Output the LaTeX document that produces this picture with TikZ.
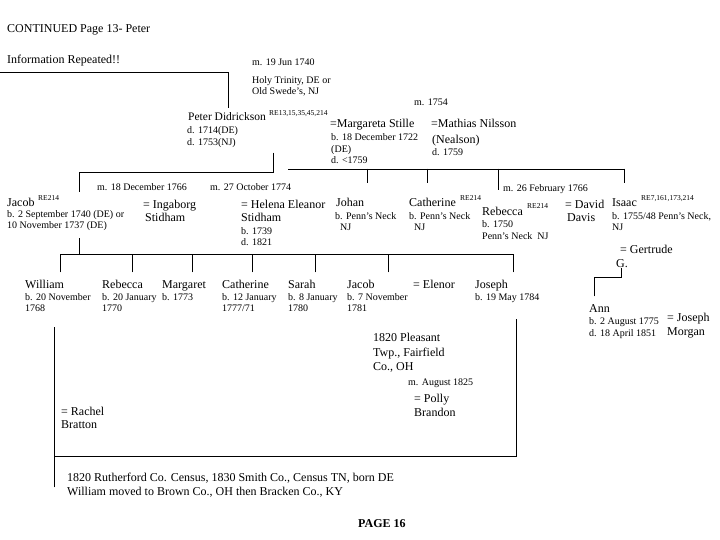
\documentclass[tikz,border=0pt]{standalone}
\usepackage{fontspec}
\setmainfont{Liberation Serif}
\tikzset{
  lg/.style={anchor=base west, inner sep=0pt, font=\fontsize{12}{14}\selectfont},
  pt/.style={anchor=base west, inner sep=0pt, font=\fontsize{11.5}{13}\selectfont},
  sm/.style={anchor=base west, inner sep=0pt, font=\fontsize{10}{11}\selectfont},
  sp/.style={anchor=base west, inner sep=0pt, font=\fontsize{7.5}{8}\selectfont},
  bd/.style={anchor=base west, inner sep=0pt, font=\fontsize{12}{14}\selectfont\bfseries},
  ln/.style={line width=0.9pt, line cap=rect},
}
\begin{document}
\begin{tikzpicture}[x=1pt,y=-1pt]
\useasboundingbox[fill=white] (0,0) rectangle (720,540);
% header
\node[lg] (t1) at (7,33) {CONTINUED Page 13- Peter};
\node[lg] (t2) at (7,64) {Information Repeated!!};
\node[sm] (m1740) at (252,66) {m. 19 Jun 1740};
\node[sm] (holy) at (252,84) {Holy Trinity, DE or};
\node[sm] (swede) at (252,95) {Old Swede’s, NJ};
\node[sm] (m1754) at (414,106) {m. 1754};
% Peter
\node[pt] (peter) at (188,121) {Peter Didrickson};
\node[sp] (peterre) at (269,116) {RE13,15,35,45,214};
\node[sm] (pd1) at (187,134) {d. 1714(DE)};
\node[sm] (pd2) at (187,146) {d. 1753(NJ)};
\node[lg] (marg) at (330,128) {=Margareta Stille};
\node[sm] (marg1) at (331,141) {b. 18 December 1722};
\node[sm] (marg2) at (331,153) {(DE)};
\node[sm] (marg3) at (331,164) {d. <1759};
\node[lg] (math) at (431,128) {=Mathias Nilsson};
\node[lg] (math1) at (432,144) {(Nealson)};
\node[sm] (math2) at (432,156) {d. 1759};
% second row
\node[sm] (m1766) at (97,191) {m. 18 December 1766};
\node[sm] (m1774) at (210,191) {m. 27 October 1774};
\node[lg] (jacob) at (7,207) {Jacob};
\node[sp] (jacobre) at (38,201) {RE214};
\node[sm] (jacob1) at (7,218) {b. 2 September 1740 (DE) or};
\node[sm] (jacob2) at (7,229) {10 November 1737 (DE)};
\node[lg] (inga) at (143,208) {= Ingaborg};
\node[lg] (inga1) at (145,222) {Stidham};
\node[lg] (hel) at (241,208) {= Helena Eleanor};
\node[lg] (hel1) at (241,222) {Stidham};
\node[sm] (hel2) at (241,234) {b. 1739};
\node[sm] (hel3) at (241,245) {d. 1821};
\node[lg] (johan) at (336,207) {Johan};
\node[sm] (johan1) at (335,219) {b. Penn’s Neck};
\node[sm] (johan2) at (340,230) {NJ};
\node[lg] (cath) at (409,207) {Catherine};
\node[sp] (cathre) at (460,201) {RE214};
\node[sm] (cath1) at (409,219) {b. Penn’s Neck};
\node[sm] (cath2) at (414,230) {NJ};
\node[lg] (reb) at (482,215) {Rebecca};
\node[sp] (rebre) at (527,209) {RE214};
\node[sm] (reb1) at (482,228) {b. 1750};
\node[sm] (reb2) at (482,240) {Penn’s Neck\ \ NJ};
\node[sm] (m1766b) at (503,192) {m. 26 February 1766};
\node[lg] (david) at (565,208) {= David};
\node[lg] (david1) at (567,222) {Davis};
\node[lg] (isaac) at (612,207) {Isaac};
\node[sp] (isaacre) at (641,201) {RE7,161,173,214};
\node[sm] (isaac1) at (612,219) {b. 1755/48 Penn’s Neck,};
\node[sm] (isaac2) at (612,230) {NJ};
\node[lg] (gert) at (620,254) {= Gertrude};
\node[lg] (gert1) at (616,267) {G.};
% children
\node[lg] (will) at (25,288) {William};
\node[sm] (will1) at (25,300) {b. 20 November};
\node[sm] (will2) at (25,311) {1768};
\node[lg] (rebc) at (102,288) {Rebecca};
\node[sm] (rebc1) at (102,300) {b. 20 January};
\node[sm] (rebc2) at (102,311) {1770};
\node[lg] (marc) at (162,288) {Margaret};
\node[sm] (marc1) at (162,300) {b. 1773};
\node[lg] (cathc) at (222,288) {Catherine};
\node[sm] (cathc1) at (222,300) {b. 12 January};
\node[sm] (cathc2) at (222,311) {1777/71};
\node[lg] (sarah) at (288,288) {Sarah};
\node[sm] (sarah1) at (288,300) {b. 8 January};
\node[sm] (sarah2) at (288,311) {1780};
\node[lg] (jacc) at (347,288) {Jacob};
\node[sm] (jacc1) at (347,300) {b. 7 November};
\node[sm] (jacc2) at (347,311) {1781};
\node[lg] (elen) at (413,288) {= Elenor};
\node[lg] (jos) at (475,288) {Joseph};
\node[sm] (jos1) at (475,300) {b. 19 May 1784};
% Ann
\node[lg] (ann) at (589,312) {Ann};
\node[sm] (ann1) at (589,324) {b. 2 August 1775};
\node[sm] (ann2) at (589,336) {d. 18 April 1851};
\node[lg] (jm) at (667,321) {= Joseph};
\node[lg] (jm1) at (667,335) {Morgan};
% lower
\node[lg] (ple) at (373,341) {1820 Pleasant};
\node[lg] (ple1) at (373,356) {Twp., Fairfield};
\node[lg] (ple2) at (373,370) {Co., OH};
\node[sm] (m1825) at (408,385) {m. August 1825};
\node[lg] (polly) at (414,402) {= Polly};
\node[lg] (polly1) at (414,416) {Brandon};
\node[lg] (rach) at (61,415) {= Rachel};
\node[lg] (rach1) at (61,428) {Bratton};
\node[lg] (cen) at (67,481) {1820 Rutherford Co. Census, 1830 Smith Co., Census TN, born DE};
\node[lg] (cen1) at (67,495) {William moved to Brown Co., OH then Bracken Co., KY};
\node[bd] (page) at (358,527) {PAGE 16};
% coordinates for lines
\coordinate (a0) at (0,72);
\coordinate (a1) at (228,72);
\coordinate (a2) at (228,108);
\coordinate (b0) at (273,153);
\coordinate (b1) at (273,172);
\coordinate (b2) at (79,172);
\coordinate (b3) at (79,192);
\coordinate (c0) at (79,238);
\coordinate (c1) at (79,254);
\coordinate (h0) at (60,254);
\coordinate (h1) at (513,254);
\coordinate (s0) at (288,169);
\coordinate (s1) at (624,169);
\coordinate (g0) at (621,268);
\coordinate (g1) at (621,277);
\coordinate (g2) at (594,277);
\coordinate (g3) at (594,296);
\coordinate (j0) at (516,319);
\coordinate (j1) at (516,456);
\coordinate (j2) at (54,456);
\coordinate (w0) at (54,327);
\coordinate (w1) at (54,487);
% lines
\draw[ln] (a0) -- (a1) -- (a2);
\draw[ln] (b0) -- (b1) -- (b2) -- (b3);
\draw[ln] (c0) -- (c1);
\draw[ln] (h0) -- (h1);
\foreach \x in {60,132,192,252,315,388,513}
  \draw[ln] (\x,254) -- (\x,272);
\draw[ln] (s0) -- (s1);
\foreach \x/\e in {367/183,427/183,498/190,624/183}
  \draw[ln] (\x,169) -- (\x,\e);
\draw[ln] (g0) -- (g1) -- (g2) -- (g3);
\draw[ln] (j0) -- (j1) -- (j2);
\draw[ln] (w0) -- (w1);
\end{tikzpicture}
\end{document}
